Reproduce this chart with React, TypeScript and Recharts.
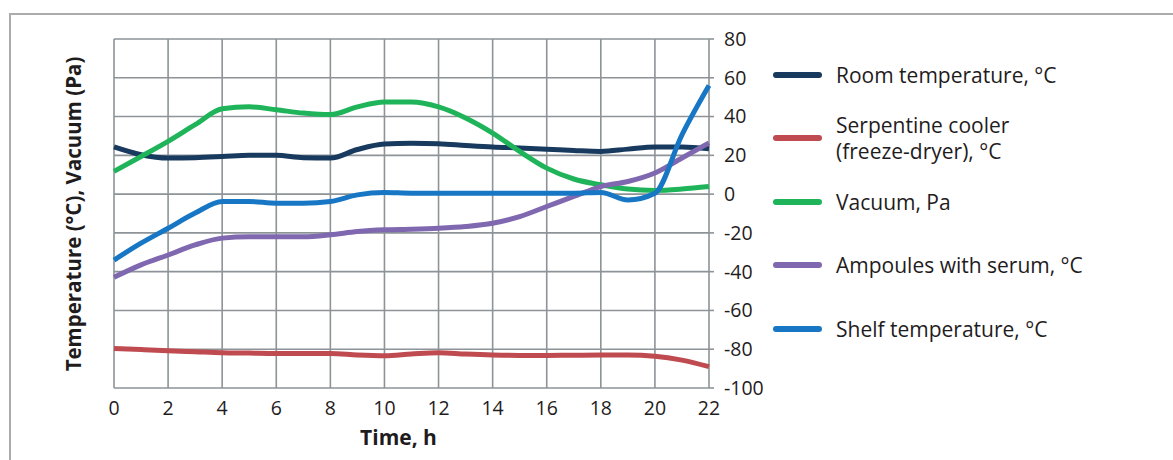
import React from "react";
import { LineChart, Line, XAxis, YAxis, CartesianGrid } from "recharts";

// time, h
const hours = [0, 1, 2, 3, 4, 5, 6, 7, 8, 9, 10, 11, 12, 13, 14, 15, 16, 17, 18, 19, 20, 21, 22];

const roomTemp = [24.3, 20.3, 18.6, 18.8, 19.4, 20.1, 20, 18.8, 18.6, 23, 25.8, 26.2, 26, 25.1, 24.3, 23.8, 23.2, 22.5, 22, 23.2, 24.3, 24.3, 23.4];
const coolerTemp = [-79.6, -80.2, -80.8, -81.3, -81.8, -82, -82.2, -82.2, -82.2, -83, -83.4, -82.5, -81.8, -82.5, -83, -83.2, -83.2, -83.1, -83, -83, -83.6, -85.6, -89];
const vacuumPa = [11.7, 19.4, 27.2, 35.8, 44, 45, 43.5, 41.8, 41, 45, 47.5, 47.5, 45, 39.3, 31.5, 22, 13.4, 7.8, 4.8, 2.6, 1.9, 2.6, 3.9];
const ampoulesTemp = [-42.9, -36.5, -31.4, -26.2, -22.7, -22, -22, -22, -21, -19.3, -18.4, -18.1, -17.6, -16.7, -15, -11.6, -6.4, -1.2, 3.9, 6.5, 10.9, 18.6, 26.4];
const shelfTemp = [-34, -25.3, -17.6, -9.8, -3.8, -3.8, -4.7, -4.7, -3.8, -0.4, 0.8, 0.5, 0.5, 0.5, 0.5, 0.5, 0.5, 0.5, 0.8, -3, 0.5, 30.6, 56];

const xTicks = [0, 2, 4, 6, 8, 10, 12, 14, 16, 18, 20, 22];
const yTicks = [-100, -80, -60, -40, -20, 0, 20, 40, 60, 80];

const series = [
  { key: "room", name: "Room temperature, °C", color: "#173a5e", values: roomTemp },
  { key: "cooler", name: "Serpentine cooler\n(freeze-dryer), °C", color: "#bf4b50", values: coolerTemp },
  { key: "vacuum", name: "Vacuum, Pa", color: "#1fb45a", values: vacuumPa },
  { key: "ampoules", name: "Ampoules with serum, °C", color: "#7f68b0", values: ampoulesTemp },
  { key: "shelf", name: "Shelf temperature, °C", color: "#1877c4", values: shelfTemp },
];

const data = hours.map((h, i) => {
  const row: Record<string, number> = { t: h };
  series.forEach((s) => (row[s.key] = s.values[i]));
  return row;
});

const FONT = "'Open Sans', 'Noto Sans', sans-serif";
const GRID = "#8d9397";
const TEXT = "#1f1c1d";

export default function App() {
  return (
    <div style={{ position: "absolute", left: 0, top: 0, width: 1173, height: 460, background: "#fff", overflow: "hidden", fontFamily: FONT }}>
      {/* frame */}
      <div style={{ position: "absolute", left: 9, top: 13, width: 1200, height: 500, borderLeft: "2px solid #a9abad", borderTop: "2px solid #a9abad" }} />

      <LineChart width={1173} height={460} data={data} margin={{ top: 39, right: 404, left: 114, bottom: 0 }} style={{ position: "absolute", left: 0, top: 0 }}>
        <CartesianGrid stroke={GRID} strokeWidth={1.6} />
        <XAxis
          dataKey="t"
          type="number"
          domain={[0, 22]}
          ticks={xTicks}
          axisLine={false}
          tickLine={false}
          tickSize={0}
          tickMargin={13}
          height={72}
          interval={0}
          tick={{ fill: TEXT, fontSize: 19.5, fontFamily: FONT }}
          label={{ value: "Time, h", position: "insideBottom", offset: 15, dx: -13, fill: TEXT, fontSize: 21, fontWeight: 700, fontFamily: FONT }}
        />
        <YAxis
          orientation="right"
          width={60}
          type="number"
          domain={[-100, 80]}
          ticks={yTicks}
          interval={0}
          axisLine={false}
          tickLine={{ stroke: GRID, strokeWidth: 1.6 }}
          tickSize={5}
          tickMargin={10}
          tick={{ fill: TEXT, fontSize: 19.5, fontFamily: FONT, textAnchor: "start" }}
        />
        {series.map((s) => (
          <Line
            key={s.key}
            dataKey={s.key}
            name={s.name}
            type="monotone"
            stroke={s.color}
            strokeWidth={5}
            dot={false}
            activeDot={false}
            isAnimationActive={false}
          />
        ))}
      </LineChart>

      {/* y axis title */}
      <div
        style={{
          position: "absolute",
          left: 73,
          top: 214,
          transform: "translate(-50%, -50%) rotate(-90deg)",
          whiteSpace: "nowrap",
          fontWeight: 700,
          fontSize: 20.5,
          color: TEXT,
        }}
      >
        Temperature (°C), Vacuum (Pa)
      </div>

      {/* legend */}
      <div style={{ position: "absolute", left: 773, top: 43 }}>
        {series.map((s) => (
          <div key={s.key} style={{ display: "flex", alignItems: "center", height: 63.5 }}>
            <div style={{ width: 49, height: 6, borderRadius: 3, background: s.color, marginRight: 14 }} />
            <div style={{ fontSize: 21, lineHeight: "26px", color: TEXT, whiteSpace: "pre" }}>{s.name}</div>
          </div>
        ))}
      </div>
    </div>
  );
}
